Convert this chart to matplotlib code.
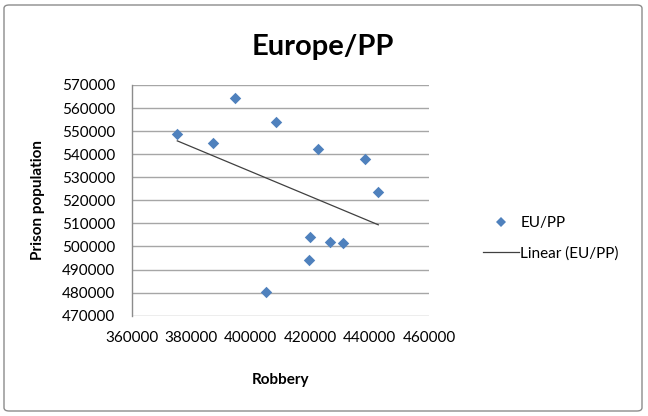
import numpy as np
import matplotlib
matplotlib.use("Agg")
import matplotlib.pyplot as plt
from matplotlib.lines import Line2D
from matplotlib.patches import FancyBboxPatch

# Data
robbery = [375250, 387170, 394580, 408590, 422520, 438550, 442930,
           419930, 426670, 431040, 419490, 405220]
prison = [548760, 544990, 564230, 553830, 542390, 538050, 523490,
          503980, 501950, 501380, 494140, 480140]
x_ticks = [360000, 380000, 400000, 420000, 440000, 460000]
y_ticks = [470000, 480000, 490000, 500000, 510000, 520000,
           530000, 540000, 550000, 560000, 570000]
title = "Europe/PP"
series_name = "EU/PP"
trend_name = "Linear (EU/PP)"

FONT = ["Lato", "DejaVu Sans"]
plt.rcParams["font.family"] = FONT
BLUE = "#4F81BD"

W, H = 648, 416
fig = plt.figure(figsize=(W / 100, H / 100), dpi=100)

# outer frame
fig.patches.append(FancyBboxPatch((4 / W, 5 / H), (642 - 4) / W, (411 - 5) / H,
                                  boxstyle="round,pad=0,rounding_size=0.008",
                                  transform=fig.transFigure, fill=False,
                                  edgecolor="#8C8C8C", linewidth=1.0))

l, r, t, b = 132, 429, 85, 315.7
ax = fig.add_axes([l / W, 1 - b / H, (r - l) / W, (b - t) / H])
ax.set_xlim(360000, 460000)
ax.set_ylim(470000, 570000)
ax.set_xticks(x_ticks)
ax.set_yticks(y_ticks)
ax.set_xticklabels([str(v) for v in x_ticks])
ax.set_yticklabels([str(v) for v in y_ticks])
ax.tick_params(axis="both", length=0, labelsize=11, colors="black")
ax.tick_params(axis="x", pad=11)
ax.tick_params(axis="y", pad=12)
for s in ["top", "right", "bottom"]:
    ax.spines[s].set_visible(False)
ax.spines["left"].set_color("#8C8C8C")
ax.spines["left"].set_linewidth(1.0)
ax.yaxis.grid(True, color="#A6A6A6", linewidth=1.0)
ax.xaxis.grid(False)
ax.set_axisbelow(True)

ax.scatter(robbery, prison, marker="D", s=34, color=BLUE, zorder=3, linewidths=0)

xs = np.array(robbery, dtype=float)
ys = np.array(prison, dtype=float)
k, c = np.polyfit(xs, ys, 1)
xl = np.array([xs.min(), xs.max()])
ax.plot(xl, k * xl + c, color="#404040", linewidth=0.9, zorder=2)

fig.text(323 / W, 1 - 47 / H, title, fontsize=21, fontweight="bold",
         ha="center", va="center")
ax.set_xlabel("Robbery", fontsize=11, fontweight="bold")
ax.xaxis.set_label_coords(0.5, (315.7 - 380) / 230.7)
ax.xaxis.label.set_va("center")
ax.set_ylabel("Prison population", fontsize=11, fontweight="bold")
ax.yaxis.set_label_coords((38 - 132) / 297, 0.5)
ax.yaxis.label.set_va("center")

handles = [Line2D([], [], marker="D", color=BLUE, linestyle="none", markersize=5.5,
                  markeredgewidth=0),
           Line2D([], [], color="#404040", linewidth=0.9)]
fig.legend(handles, [series_name, trend_name], loc="upper left",
           bbox_to_anchor=(483 / W, 1 - 216 / H), frameon=False, fontsize=11,
           borderpad=0, handlelength=2.35, handletextpad=0.1, labelspacing=1.05,
           borderaxespad=0)

fig.savefig("out.png", dpi=100)
